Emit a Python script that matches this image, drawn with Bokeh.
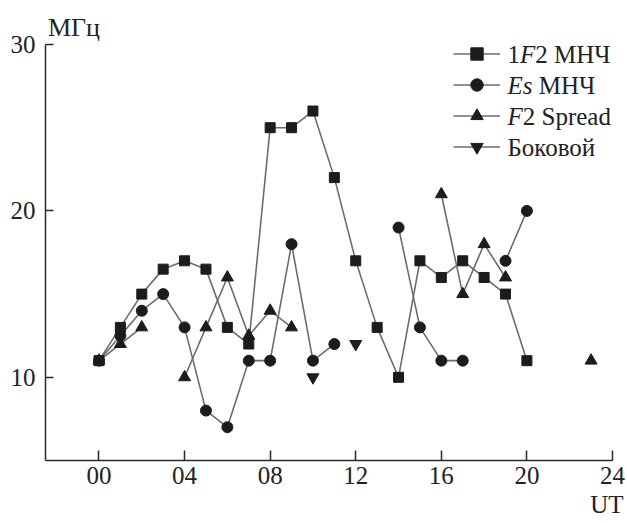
import numpy as np
from bokeh.plotting import figure
from bokeh.models import (ColumnDataSource, Range1d, Label, Legend, LegendItem,
                          FixedTicker, LinearAxis)
from bokeh.embed import file_html
from bokeh.resources import INLINE

nan = np.nan

# ---- data ----
hours = list(range(0, 24))
f2_muf = [11, 13, 15, 16.5, 17, 16.5, 13, 12, 25, 25, 26, 22, 17, 13, 10, 17, 16, 17, 16, 15, 11, nan, nan, nan]
es_muf = [11, 12.5, 14, 15, 13, 8, 7, 11, 11, 18, 11, 12, nan, nan, 19, 13, 11, 11, nan, 17, 20, nan, nan, nan]
f2_spread = [11, 12, 13, nan, 10, 13, 16, 12.5, 14, 13, nan, nan, nan, nan, nan, nan, 21, 15, 18, 16, nan, nan, nan, 11]
side = [nan, nan, nan, nan, nan, nan, nan, nan, nan, nan, 10, nan, 12, nan, nan, nan, nan, nan, nan, nan, nan, nan, nan, nan]

x_ticks = [0, 4, 8, 12, 16, 20, 24]
x_tick_labels = ["00", "04", "08", "12", "16", "20", "24"]
y_ticks = [10, 20, 30]
y_tick_labels = ["10", "20", "30"]

y_unit = "МГц"
x_unit = "UT"
# legend label pieces: [plain prefix, italic part, plain suffix]
legend_parts = [
    ["1", "F", "2 МНЧ"],
    ["", "Es", "МНЧ"],
    ["", "F", "2 Spread"],
    ["Боковой", "", ""],
]

FONT = "Liberation Serif"
LINE_C = "#6c6c6c"
MARK_C = "#1c1c1c"
TXT_C = "#222222"

# horizontal anchor (in hours) of the unit captions
Y_UNIT_AT = -1.17
X_UNIT_AT = 23.74

src = ColumnDataSource(dict(h=hours, f2=f2_muf, es=es_muf, sp=f2_spread, sd=side))

p = figure(width=627, height=523, output_backend="svg", toolbar_location=None,
           x_range=Range1d(-2.5, 24), y_range=Range1d(5, 30),
           min_border_left=45, min_border_right=15, min_border_top=44, min_border_bottom=63)
p.outline_line_color = None
p.xgrid.visible = False
p.ygrid.visible = False
p.background_fill_color = "white"

for ax in (p.xaxis[0], p.yaxis[0]):
    ax.axis_line_color = "#2a2a2a"
    ax.axis_line_width = 1.5
    ax.major_tick_line_color = "#2a2a2a"
    ax.major_tick_line_width = 1.5
    ax.major_tick_out = 0
    ax.minor_tick_line_color = None
    ax.major_label_text_font = FONT
    ax.major_label_text_font_size = "25px"
    ax.major_label_text_color = TXT_C

p.xaxis[0].ticker = FixedTicker(ticks=x_ticks)
p.xaxis[0].major_label_overrides = {t: l for t, l in zip(x_ticks, x_tick_labels)}
p.xaxis[0].major_tick_in = 10
p.xaxis[0].major_label_standoff = 6
p.yaxis[0].ticker = FixedTicker(ticks=y_ticks)
p.yaxis[0].major_label_overrides = {t: l for t, l in zip(y_ticks, y_tick_labels)}
p.yaxis[0].major_tick_in = 8
p.yaxis[0].major_label_standoff = 10


def caption_axis(pos, text, standoff, size):
    ax = LinearAxis(ticker=FixedTicker(ticks=[pos]), major_label_overrides={pos: text})
    ax.axis_line_color = None
    ax.major_tick_line_color = None
    ax.minor_tick_line_color = None
    ax.major_tick_in = 0
    ax.major_tick_out = 0
    ax.major_label_standoff = standoff
    ax.major_label_text_font = FONT
    ax.major_label_text_font_size = size
    ax.major_label_text_color = TXT_C
    return ax


p.add_layout(caption_axis(X_UNIT_AT, x_unit, 4, "25px"), "below")
p.add_layout(caption_axis(Y_UNIT_AT, y_unit, 3, "26px"), "above")

# lines
l_es = p.line("h", "es", source=src, color=LINE_C, line_width=1.6)
l_sp = p.line("h", "sp", source=src, color=LINE_C, line_width=1.6)
l_sd = p.line("h", "sd", source=src, color=LINE_C, line_width=1.6)
l_f2 = p.line("h", "f2", source=src, color=LINE_C, line_width=1.6)

# markers
m_es = p.scatter("h", "es", source=src, marker="circle", size=11, fill_color=MARK_C, line_color=MARK_C)
m_sp = p.scatter("h", "sp", source=src, marker="triangle", size=12, fill_color=MARK_C, line_color=MARK_C)
m_sd = p.scatter("h", "sd", source=src, marker="inverted_triangle", size=12, fill_color=MARK_C, line_color=MARK_C)
m_f2 = p.scatter("h", "f2", source=src, marker="square", size=10, fill_color=MARK_C, line_color=MARK_C)

# legend glyphs (labels drawn separately for italic parts)
ROW_H = 31
items = [
    LegendItem(label="".join(legend_parts[0]), renderers=[l_f2, m_f2]),
    LegendItem(label="".join(legend_parts[1]), renderers=[l_es, m_es]),
    LegendItem(label="".join(legend_parts[2]), renderers=[l_sp, m_sp]),
    LegendItem(label="".join(legend_parts[3]), renderers=[l_sd, m_sd]),
]
leg = Legend(items=items, location=(408, 298), glyph_width=47, glyph_height=ROW_H,
             label_height=ROW_H, label_width=0, label_standoff=0,
             label_text_font_size="1px", label_text_alpha=0,
             padding=0, spacing=0, margin=0,
             border_line_alpha=0, background_fill_alpha=0)
p.add_layout(leg, "center")

FS = 25
# approximate advance widths (em) for Times-compatible metrics (incl. following space)
adv = {"1": 0.5, "F": 0.611, "Es": 1.25, "": 0.0}
lx0 = 462
row_top = 298 + 4 * ROW_H
for i, (pre, ital, suf) in enumerate(legend_parts):
    yc = row_top - ROW_H * i - ROW_H / 2
    x = lx0
    for txt, style in ((pre, "normal"), (ital, "italic"), (suf, "normal")):
        if txt:
            p.add_layout(Label(x=x, y=yc, x_units="screen", y_units="screen", text=txt,
                               text_font=FONT, text_font_size=f"{FS}px", text_font_style=style,
                               text_color=TXT_C, text_baseline="middle", text_align="left"))
        if txt in adv:
            x += adv[txt] * FS

open("out.html", "w").write(file_html(p, INLINE))
